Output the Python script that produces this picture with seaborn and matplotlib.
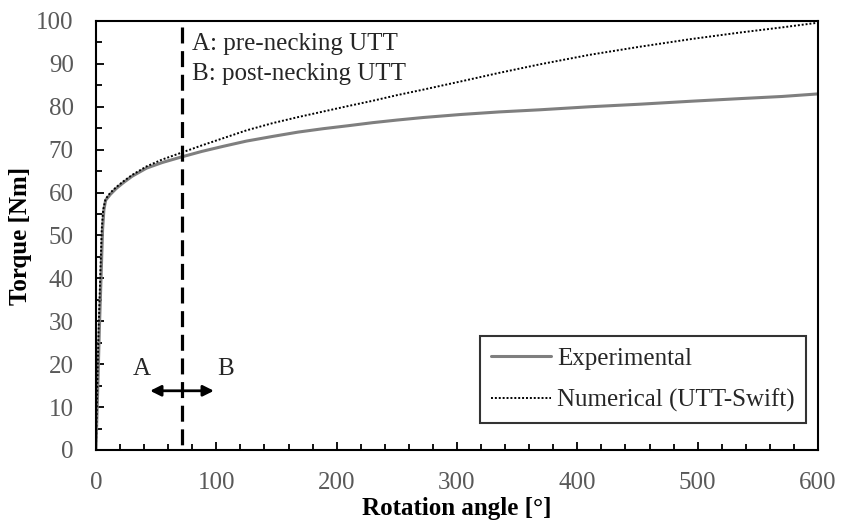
import numpy as np
import pandas as pd
import matplotlib
matplotlib.use("Agg")
import matplotlib.pyplot as plt
import seaborn as sns
from matplotlib.ticker import MultipleLocator

exp_x = [0, 0.5, 1.7, 2.8, 4.2, 5.5, 6.6, 8, 12, 17, 22.7, 30, 42, 55, 71, 88, 106, 125, 147, 168, 189,
         210, 230, 250, 272, 303, 335, 369, 410, 452, 495, 535, 570, 600]
exp_y = [0, 5, 16.5, 28, 40, 51.4, 56, 58.2, 59.6, 61, 62.3, 63.8, 65.7, 67, 68.3, 69.6, 70.8, 72, 73.1, 74.1, 74.9,
         75.6, 76.3, 76.9, 77.5, 78.2, 78.8, 79.3, 80, 80.6, 81.3, 81.9, 82.4, 83.0]
num_x = [0, 0.3, 1.2, 2.2, 3.5, 4.8, 6, 8, 12, 17, 22.7, 30, 42, 55, 71, 88, 106, 125, 147, 168, 189,
         210, 230, 250, 272, 303, 335, 369, 410, 452, 495, 535, 570, 600]
num_y = [0, 5, 16.5, 28, 40, 51.4, 56, 58.5, 60, 61.3, 62.6, 64.1, 66.1, 67.7, 69.3, 71, 72.7, 74.5, 76.2, 77.6, 78.9,
         80.2, 81.4, 82.7, 84, 85.9, 87.9, 89.9, 92.1, 94, 95.8, 97.3, 98.5, 99.6]
necking_angle = 71.5
labels = ["Experimental", "Numerical (UTT-Swift)"]

sns.set_theme(style="white")
plt.rcParams['font.family'] = ['Liberation Serif', 'DejaVu Serif']

df = pd.concat([
    pd.DataFrame({"x": exp_x, "y": exp_y, "s": labels[0]}),
    pd.DataFrame({"x": num_x, "y": num_y, "s": labels[1]}),
])

FS = 18
fig = plt.figure(figsize=(8.47, 5.23), dpi=100)
ax = fig.add_axes([0.1133, 0.1396, 0.8525, 0.8203])

sns.lineplot(data=df[df.s == labels[0]], x="x", y="y", ax=ax, color="#7f7f7f",
             linewidth=2.2, label=labels[0], sort=False)
sns.lineplot(data=df[df.s == labels[1]], x="x", y="y", ax=ax, color="black",
             linewidth=1.4, linestyle=(0, (1, 1)), label=labels[1], sort=False)

ax.plot([necking_angle, necking_angle], [98.6, 0], color="black", linewidth=2.3,
        linestyle=(0, (5, 2.4)))
ax.annotate("", xy=(45, 13.8), xytext=(98, 13.8),
            arrowprops=dict(arrowstyle="<|-|>", color="black", lw=2,
                            mutation_scale=16, shrinkA=0, shrinkB=0))
ax.text(38, 17.5, "A", ha="center", va="baseline", fontsize=FS)
ax.text(108, 17.5, "B", ha="center", va="baseline", fontsize=FS)
ax.text(80, 93.3, "A: pre-necking UTT", ha="left", va="baseline", fontsize=FS)
ax.text(80, 86.3, "B: post-necking UTT", ha="left", va="baseline", fontsize=FS)

ax.set_xlim(0, 600)
ax.set_ylim(0, 100)
ax.xaxis.set_major_locator(MultipleLocator(100))
ax.xaxis.set_minor_locator(MultipleLocator(20))
ax.yaxis.set_major_locator(MultipleLocator(10))
ax.yaxis.set_minor_locator(MultipleLocator(5))
ax.tick_params(which="both", direction="in", color="black", width=1.3)
ax.tick_params(which="major", length=6, labelsize=FS, labelcolor="#595959")
ax.tick_params(which="minor", length=4)
ax.tick_params(axis="x", which="major", pad=16)
ax.tick_params(axis="y", which="major", pad=16)
ax.tick_params(which="both", top=False, right=False, bottom=True, left=True)
for sp in ax.spines.values():
    sp.set_color("black")
    sp.set_linewidth(1.5)

ax.set_xlabel("Rotation angle [°]", fontsize=FS, fontweight="bold", color="black", labelpad=2)
ax.set_ylabel("Torque [Nm]", fontsize=FS, fontweight="bold", color="black", labelpad=3)

leg = ax.legend(loc="lower right", bbox_to_anchor=(0.9834, 0.063), frameon=True, fancybox=False,
                edgecolor="black", fontsize=FS, handlelength=2.4, handletextpad=0.25,
                borderpad=0.45, labelspacing=0.75, borderaxespad=0)
leg.get_frame().set_linewidth(1.5)

fig.savefig("out.png", dpi=100)
